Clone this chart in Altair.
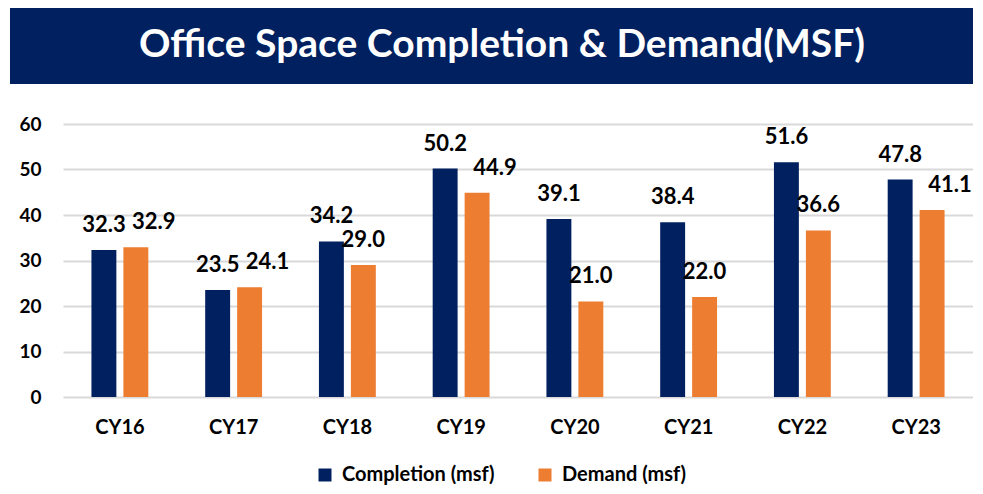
import altair as alt
import pandas as pd
import json

title_text = "Office Space Completion & Demand(MSF)"
categories = ["CY16", "CY17", "CY18", "CY19", "CY20", "CY21", "CY22", "CY23"]
series = ["Completion (msf)", "Demand (msf)"]
completion = [32.3, 23.5, 34.2, 50.2, 39.1, 38.4, 51.6, 47.8]
demand = [32.9, 24.1, 29.0, 44.9, 21.0, 22.0, 36.6, 41.1]
y_ticks = [0, 10, 20, 30, 40, 50, 60]

# demand labels that the reference nudges to the right of their bar
nudged = ["CY16", "CY17", "CY19", "CY23"]

colors = ["#002060", "#ED7D31"]
FONT = "Lato"

rows = []
for c, a, b in zip(categories, completion, demand):
    rows.append({"cat": c, "series": series[0], "value": a})
    rows.append({"cat": c, "series": series[1], "value": b})
df = pd.DataFrame(rows)

x_enc = alt.X(
    "cat:N",
    sort=categories,
    title=None,
    scale=alt.Scale(paddingInner=0.5, paddingOuter=0.25),
    axis=alt.Axis(
        domain=False, ticks=False, labelAngle=0, labelFontSize=20,
        labelFontWeight="bold", labelColor="#000000", labelFont=FONT,
        labelPadding=20, grid=False,
    ),
)
xoff_enc = alt.XOffset("series:N", sort=series, scale=alt.Scale(paddingInner=0.22))
y_enc = alt.Y(
    "value:Q",
    title=None,
    scale=alt.Scale(domain=[0, 60], nice=False),
    axis=alt.Axis(
        values=y_ticks, domain=False, ticks=False, labelFontSize=19,
        labelFontWeight="bold", labelColor="#000000", labelFont=FONT,
        labelPadding=22, grid=True, gridColor="#D9D9D9", gridWidth=2,
    ),
)

base = alt.Chart(df)

bars = base.mark_bar().encode(
    x=x_enc,
    xOffset=xoff_enc,
    y=y_enc,
    color=alt.Color(
        "series:N",
        sort=series,
        scale=alt.Scale(domain=series, range=colors),
        legend=alt.Legend(
            title=None, orient="none", direction="horizontal",
            legendX=252, legendY=341, symbolType="square", symbolSize=169,
            symbolStrokeWidth=0, labelFontSize=20, labelFontWeight="bold",
            labelFont=FONT, labelColor="#000000", columnPadding=40,
            labelOffset=7,
        ),
    ),
)

text_props = dict(baseline="alphabetic", dy=-18, fontSize=22, fontWeight="bold",
                  font=FONT, color="#000000")
text_enc = dict(x=x_enc, xOffset=xoff_enc, y=y_enc,
                text=alt.Text("value:Q", format=".1f"))

is_nudged = f"(indexof({json.dumps(nudged)}, datum.cat) >= 0 && datum.series == {json.dumps(series[1])})"
labels_center = base.mark_text(**text_props).encode(**text_enc).transform_filter(
    f"!{is_nudged}"
)
labels_right = base.mark_text(dx=18, **text_props).encode(**text_enc).transform_filter(
    is_nudged
)

title_data = alt.Data(values=[{"t": title_text}])
banner = alt.Chart(title_data).mark_rect(color="#002060").encode(
    x=alt.value(-53), x2=alt.value(910), y=alt.value(-119), y2=alt.value(-40)
)
banner_text = alt.Chart(title_data).mark_text(
    fontSize=39, fontWeight="bold", color="#FFFFFF", font=FONT,
    align="center", baseline="middle",
).encode(x=alt.value(439), y=alt.value(-79), text="t:N")

chart = alt.layer(banner, banner_text, bars, labels_center, labels_right).properties(
    width=910,
    height=273,
    autosize=alt.AutoSizeParams(type="none"),
    padding={"left": 55, "top": 116, "right": 0, "bottom": 89},
    background="#FFFFFF",
).configure_view(stroke=None)

chart.save("out.html", embed_options={"renderer": "svg", "actions": False})
